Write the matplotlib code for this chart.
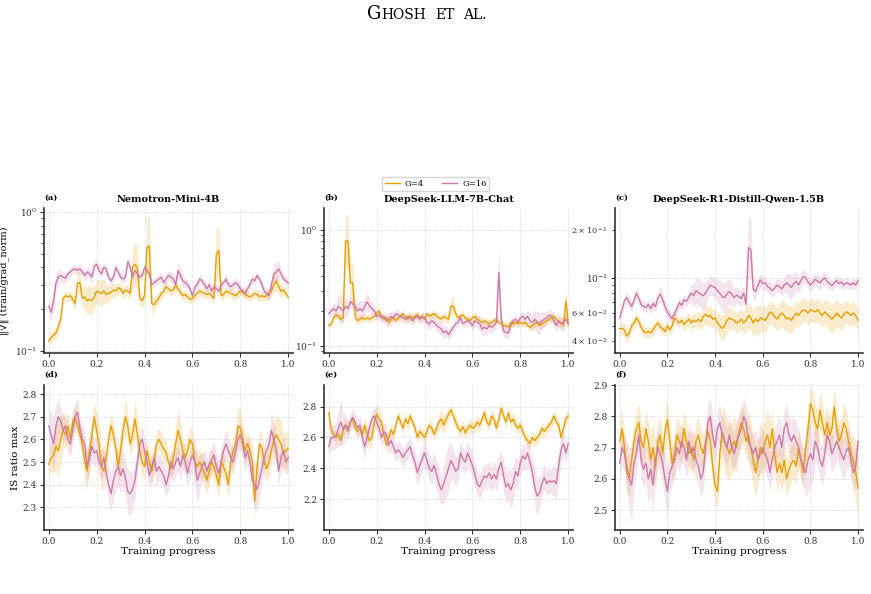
"""GRPO group-size comparison: grad norm and IS ratio max across three models."""

import matplotlib

matplotlib.use("Agg")
import matplotlib.pyplot as plt  # noqa: E402
import numpy as np  # noqa: E402

plt.rcParams["font.family"] = ["DejaVu Serif"]

ORANGE = "#E69F00"
PINK = "#CC79A7"

models = ["Nemotron-Mini-4B", "DeepSeek-LLM-7B-Chat", "DeepSeek-R1-Distill-Qwen-1.5B"]
group_labels = ["G=4", "G=16"]
progress = np.round(np.arange(101) * 0.01, 2)
x_ticks = [0.0, 0.2, 0.4, 0.6, 0.8, 1.0]

# ---- grad norm (log scale), sampled every 0.01 of training progress ----
gn_nemotron_g4 = [
    0.118, 0.125, 0.13, 0.135, 0.15, 0.17, 0.24, 0.25, 0.245, 0.25,
    0.235, 0.22, 0.31, 0.31, 0.24, 0.245, 0.23, 0.235, 0.23, 0.245,
    0.27, 0.265, 0.26, 0.27, 0.255, 0.26, 0.265, 0.275, 0.27, 0.285,
    0.28, 0.26, 0.275, 0.27, 0.26, 0.40, 0.42, 0.40, 0.24, 0.23,
    0.25, 0.56, 0.57, 0.22, 0.215, 0.23, 0.24, 0.26, 0.27, 0.29,
    0.28, 0.27, 0.275, 0.30, 0.28, 0.265, 0.25, 0.255, 0.245, 0.235,
    0.24, 0.25, 0.26, 0.27, 0.265, 0.26, 0.255, 0.26, 0.25, 0.24,
    0.50, 0.53, 0.25, 0.255, 0.27, 0.265, 0.26, 0.255, 0.25, 0.26,
    0.27, 0.265, 0.255, 0.25, 0.245, 0.25, 0.26, 0.255, 0.245, 0.25,
    0.245, 0.25, 0.26, 0.27, 0.30, 0.32, 0.29, 0.27, 0.275, 0.26,
    0.245,
]
gn_nemotron_g16 = [
    0.21, 0.19, 0.23, 0.31, 0.34, 0.35, 0.34, 0.335, 0.36, 0.37,
    0.385, 0.39, 0.38, 0.39, 0.37, 0.35, 0.37, 0.36, 0.34, 0.41,
    0.42, 0.38, 0.36, 0.40, 0.39, 0.34, 0.32, 0.34, 0.40, 0.37,
    0.34, 0.33, 0.34, 0.44, 0.40, 0.34, 0.38, 0.36, 0.34, 0.35,
    0.40, 0.38, 0.36, 0.30, 0.31, 0.32, 0.33, 0.34, 0.31, 0.33,
    0.35, 0.34, 0.33, 0.30, 0.38, 0.35, 0.32, 0.31, 0.30, 0.28,
    0.25, 0.29, 0.30, 0.33, 0.32, 0.30, 0.28, 0.30, 0.27, 0.29,
    0.28, 0.27, 0.30, 0.31, 0.33, 0.30, 0.29, 0.30, 0.31, 0.30,
    0.28, 0.27, 0.26, 0.28, 0.30, 0.33, 0.32, 0.35, 0.33, 0.30,
    0.27, 0.26, 0.25, 0.30, 0.36, 0.37, 0.39, 0.36, 0.33, 0.32,
    0.31,
]
gn_deepseek_g4 = [
    0.15, 0.155, 0.175, 0.185, 0.18, 0.17, 0.175, 0.80, 0.80, 0.35,
    0.35, 0.18, 0.165, 0.17, 0.175, 0.17, 0.175, 0.17, 0.175, 0.18,
    0.19, 0.20, 0.18, 0.17, 0.175, 0.16, 0.17, 0.175, 0.165, 0.175,
    0.18, 0.19, 0.175, 0.17, 0.18, 0.175, 0.18, 0.185, 0.175, 0.18,
    0.17, 0.19, 0.18, 0.185, 0.19, 0.18, 0.175, 0.17, 0.18, 0.175,
    0.17, 0.22, 0.22, 0.19, 0.175, 0.18, 0.185, 0.175, 0.17, 0.165,
    0.175, 0.18, 0.17, 0.165, 0.16, 0.165, 0.16, 0.155, 0.16, 0.165,
    0.17, 0.16, 0.155, 0.15, 0.15, 0.145, 0.16, 0.155, 0.16, 0.155,
    0.16, 0.155, 0.16, 0.15, 0.145, 0.15, 0.155, 0.16, 0.15, 0.155,
    0.16, 0.165, 0.17, 0.175, 0.18, 0.17, 0.16, 0.16, 0.15, 0.245,
    0.155,
]
gn_deepseek_g16 = [
    0.19, 0.20, 0.21, 0.20, 0.22, 0.21, 0.20, 0.22, 0.21, 0.24,
    0.23, 0.22, 0.20, 0.21, 0.20, 0.22, 0.24, 0.22, 0.21, 0.20,
    0.18, 0.185, 0.175, 0.18, 0.165, 0.17, 0.18, 0.175, 0.19, 0.185,
    0.18, 0.175, 0.17, 0.18, 0.175, 0.165, 0.175, 0.18, 0.17, 0.18,
    0.175, 0.16, 0.155, 0.165, 0.16, 0.15, 0.145, 0.14, 0.13, 0.135,
    0.125, 0.135, 0.145, 0.155, 0.16, 0.175, 0.155, 0.16, 0.165, 0.16,
    0.15, 0.165, 0.16, 0.155, 0.14, 0.145, 0.14, 0.15, 0.145, 0.15,
    0.16, 0.43, 0.17, 0.135, 0.13, 0.13, 0.15, 0.165, 0.17, 0.16,
    0.175, 0.18, 0.17, 0.18, 0.165, 0.16, 0.17, 0.16, 0.155, 0.165,
    0.17, 0.175, 0.185, 0.18, 0.165, 0.15, 0.165, 0.155, 0.16, 0.17,
    0.155,
]
gn_qwen_g4 = [
    0.048, 0.048, 0.047, 0.043, 0.045, 0.050, 0.052, 0.056, 0.053, 0.049,
    0.046, 0.045, 0.046, 0.045, 0.047, 0.050, 0.052, 0.049, 0.048, 0.046,
    0.050, 0.047, 0.050, 0.056, 0.054, 0.052, 0.054, 0.051, 0.053, 0.055,
    0.052, 0.054, 0.053, 0.055, 0.053, 0.057, 0.059, 0.057, 0.058, 0.055,
    0.056, 0.052, 0.050, 0.048, 0.050, 0.054, 0.056, 0.055, 0.054, 0.052,
    0.053, 0.055, 0.052, 0.054, 0.058, 0.056, 0.052, 0.055, 0.053, 0.056,
    0.055, 0.054, 0.057, 0.061, 0.060, 0.057, 0.055, 0.058, 0.060, 0.058,
    0.055, 0.056, 0.054, 0.057, 0.060, 0.058, 0.061, 0.063, 0.062, 0.060,
    0.063, 0.062, 0.061, 0.063, 0.060, 0.058, 0.061, 0.059, 0.057, 0.055,
    0.057, 0.060, 0.058, 0.056, 0.059, 0.061, 0.060, 0.058, 0.060, 0.058,
    0.054,
]
gn_qwen_g16 = [
    0.056, 0.063, 0.072, 0.075, 0.070, 0.066, 0.072, 0.080, 0.074, 0.068,
    0.066, 0.065, 0.068, 0.064, 0.069, 0.066, 0.075, 0.079, 0.073, 0.066,
    0.061, 0.058, 0.055, 0.060, 0.064, 0.070, 0.067, 0.073, 0.071, 0.076,
    0.080, 0.077, 0.083, 0.081, 0.079, 0.077, 0.080, 0.085, 0.090, 0.088,
    0.087, 0.083, 0.080, 0.076, 0.075, 0.079, 0.082, 0.079, 0.075, 0.078,
    0.076, 0.074, 0.080, 0.068, 0.155, 0.150, 0.085, 0.082, 0.090, 0.097,
    0.092, 0.093, 0.088, 0.086, 0.083, 0.086, 0.090, 0.088, 0.085, 0.090,
    0.093, 0.090, 0.087, 0.092, 0.095, 0.090, 0.096, 0.102, 0.100, 0.094,
    0.090, 0.093, 0.098, 0.095, 0.093, 0.097, 0.100, 0.095, 0.092, 0.089,
    0.093, 0.096, 0.092, 0.094, 0.090, 0.093, 0.092, 0.090, 0.093, 0.090,
    0.096,
]

# band half-widths for grad norm, in percent (band = v/(1+s) .. v*(1+s))
gn_nemotron_g4_sd = [
    8, 8, 10, 10, 10, 12, 10, 8, 8, 8, 10, 12, 20, 20, 18, 22, 25, 28, 25, 22,
    20, 25, 25, 22, 18, 15, 12, 12, 12, 10, 10, 10, 10, 10, 12, 40, 45, 40, 15, 12,
    12, 60, 65, 20, 12, 10, 10, 10, 10, 10, 8, 8, 8, 10, 10, 10, 8, 8, 8, 8,
    8, 8, 8, 8, 8, 8, 8, 8, 8, 10, 55, 50, 10, 8, 8, 8, 8, 8, 8, 8,
    8, 8, 8, 8, 8, 8, 8, 8, 8, 8, 8, 8, 10, 12, 15, 18, 15, 10, 8, 8, 8,
]
gn_nemotron_g16_sd = [
    12, 15, 20, 15, 12, 10, 10, 8, 8, 8, 8, 8, 8, 8, 8, 10, 10, 10, 10, 8,
    8, 8, 8, 8, 8, 8, 8, 8, 8, 8, 8, 8, 8, 10, 10, 8, 8, 8, 8, 8,
    8, 8, 8, 8, 8, 8, 8, 8, 8, 8, 8, 10, 10, 10, 12, 15, 12, 8, 8, 8,
    8, 8, 8, 8, 8, 8, 8, 8, 8, 8, 8, 8, 8, 8, 8, 8, 8, 8, 8, 8,
    8, 8, 8, 8, 8, 8, 8, 8, 8, 8, 8, 8, 10, 12, 15, 18, 15, 10, 8, 8, 8,
]
gn_deepseek_g4_sd = [
    6, 6, 8, 8, 8, 8, 10, 70, 70, 50, 50, 15, 8, 8, 8, 8, 8, 8, 8, 8,
    10, 10, 8, 8, 8, 8, 8, 8, 8, 8, 8, 8, 8, 8, 8, 8, 8, 8, 8, 8,
    8, 8, 8, 8, 8, 8, 8, 8, 8, 8, 10, 20, 20, 10, 8, 8, 8, 8, 8, 8,
    8, 8, 8, 8, 8, 8, 8, 8, 8, 8, 8, 8, 8, 8, 8, 10, 10, 8, 8, 8,
    8, 8, 8, 8, 8, 8, 8, 8, 8, 8, 8, 8, 8, 10, 10, 10, 10, 12, 15, 25, 20,
]
gn_deepseek_g16_sd = [
    10, 10, 12, 15, 25, 35, 25, 20, 15, 12, 12, 12, 15, 20, 20, 18, 20, 15, 12, 10,
    10, 10, 10, 10, 12, 15, 12, 10, 10, 10, 10, 10, 10, 10, 10, 10, 10, 10, 10, 10,
    12, 12, 12, 12, 12, 12, 12, 15, 12, 12, 12, 12, 10, 10, 10, 10, 10, 10, 10, 10,
    10, 12, 12, 15, 15, 15, 15, 12, 12, 12, 12, 70, 25, 12, 12, 12, 12, 10, 10, 10,
    10, 10, 10, 12, 15, 18, 20, 25, 25, 20, 15, 12, 12, 12, 12, 15, 15, 12, 12, 12, 12,
]
gn_qwen_g4_sd = [
    10, 10, 10, 10, 8, 8, 8, 8, 8, 8, 8, 8, 8, 8, 8, 8, 8, 8, 8, 8,
    8, 8, 8, 8, 8, 8, 8, 10, 10, 10, 10, 10, 12, 12, 12, 15, 15, 15, 15, 15,
    15, 15, 18, 20, 20, 20, 18, 15, 15, 15, 15, 15, 18, 20, 20, 20, 20, 22, 25, 22,
    20, 20, 18, 18, 18, 18, 18, 20, 22, 22, 22, 22, 22, 20, 20, 20, 20, 18, 18, 18,
    18, 18, 18, 18, 18, 18, 20, 22, 22, 22, 22, 22, 20, 20, 20, 18, 18, 18, 18, 18, 18,
]
gn_qwen_g16_sd = [
    8, 8, 8, 8, 8, 8, 8, 8, 8, 8, 8, 8, 8, 8, 8, 8, 10, 12, 12, 10,
    8, 8, 8, 8, 8, 8, 8, 8, 8, 10, 15, 18, 20, 22, 22, 20, 18, 15, 15, 15,
    15, 18, 20, 22, 25, 22, 20, 18, 15, 12, 12, 12, 12, 12, 55, 55, 15, 12, 10, 10,
    10, 10, 10, 10, 10, 10, 10, 10, 10, 12, 15, 18, 20, 18, 15, 12, 12, 10, 10, 10,
    10, 10, 10, 10, 10, 10, 10, 10, 8, 8, 8, 8, 8, 8, 8, 8, 8, 8, 8, 8, 8,
]

# ---- IS ratio max (linear), sampled every 0.01 of training progress ----
is_nemotron_g4 = [
    2.49, 2.52, 2.53, 2.57, 2.55, 2.60, 2.64, 2.62, 2.66, 2.60,
    2.68, 2.70, 2.66, 2.62, 2.58, 2.50, 2.46, 2.55, 2.62, 2.70,
    2.64, 2.58, 2.48, 2.46, 2.52, 2.60, 2.66, 2.62, 2.56, 2.48,
    2.55, 2.64, 2.70, 2.66, 2.58, 2.62, 2.69, 2.62, 2.55, 2.50,
    2.48, 2.55, 2.50, 2.46, 2.50, 2.58, 2.60, 2.58, 2.56, 2.54,
    2.50, 2.47, 2.52, 2.58, 2.64, 2.60, 2.55, 2.52, 2.55, 2.60,
    2.58, 2.50, 2.48, 2.50, 2.48, 2.45, 2.42, 2.46, 2.50, 2.48,
    2.44, 2.40, 2.50, 2.48, 2.45, 2.40, 2.50, 2.55, 2.58, 2.66,
    2.65, 2.60, 2.55, 2.58, 2.55, 2.50, 2.33, 2.48, 2.58, 2.56,
    2.50, 2.47, 2.50, 2.55, 2.60, 2.62, 2.60, 2.58, 2.54, 2.55,
    2.56,
]
is_nemotron_g16 = [
    2.66, 2.62, 2.58, 2.66, 2.70, 2.68, 2.64, 2.66, 2.60, 2.58,
    2.64, 2.70, 2.72, 2.65, 2.60, 2.58, 2.48, 2.52, 2.57, 2.54,
    2.55, 2.50, 2.48, 2.52, 2.45, 2.40, 2.36, 2.42, 2.46, 2.48,
    2.44, 2.47, 2.43, 2.37, 2.36, 2.38, 2.42, 2.50, 2.58, 2.60,
    2.55, 2.50, 2.44, 2.48, 2.52, 2.46, 2.48, 2.46, 2.44, 2.40,
    2.44, 2.50, 2.47, 2.50, 2.52, 2.48, 2.53, 2.50, 2.45, 2.50,
    2.53, 2.50, 2.42, 2.45, 2.48, 2.50, 2.46, 2.49, 2.51, 2.53,
    2.48, 2.45, 2.50, 2.55, 2.58, 2.55, 2.52, 2.50, 2.55, 2.60,
    2.62, 2.58, 2.52, 2.55, 2.50, 2.42, 2.40, 2.38, 2.42, 2.47,
    2.52, 2.55, 2.58, 2.64, 2.60, 2.55, 2.46, 2.52, 2.55, 2.50,
    2.52,
]
is_deepseek_g4 = [
    2.76, 2.65, 2.62, 2.60, 2.62, 2.58, 2.65, 2.68, 2.66, 2.70,
    2.72, 2.66, 2.64, 2.66, 2.62, 2.68, 2.62, 2.58, 2.60, 2.70,
    2.75, 2.72, 2.70, 2.62, 2.55, 2.60, 2.65, 2.62, 2.68, 2.74,
    2.70, 2.66, 2.72, 2.69, 2.74, 2.70, 2.66, 2.60, 2.64, 2.62,
    2.60, 2.64, 2.68, 2.66, 2.62, 2.66, 2.70, 2.72, 2.68, 2.72,
    2.75, 2.78, 2.74, 2.70, 2.66, 2.64, 2.67, 2.63, 2.66, 2.68,
    2.66, 2.67, 2.70, 2.68, 2.72, 2.76, 2.70, 2.68, 2.74, 2.72,
    2.66, 2.72, 2.79, 2.74, 2.70, 2.76, 2.70, 2.72, 2.68, 2.66,
    2.68, 2.64, 2.60, 2.58, 2.56, 2.60, 2.58, 2.60, 2.62, 2.66,
    2.64, 2.66, 2.68, 2.70, 2.74, 2.70, 2.68, 2.60, 2.66, 2.72,
    2.74,
]
is_deepseek_g16 = [
    2.54, 2.60, 2.60, 2.61, 2.66, 2.70, 2.65, 2.68, 2.64, 2.70,
    2.73, 2.70, 2.66, 2.68, 2.60, 2.54, 2.60, 2.66, 2.72, 2.74,
    2.70, 2.66, 2.60, 2.64, 2.62, 2.55, 2.58, 2.54, 2.50, 2.52,
    2.50, 2.47, 2.50, 2.52, 2.54, 2.48, 2.44, 2.37, 2.42, 2.46,
    2.50, 2.45, 2.40, 2.38, 2.42, 2.36, 2.30, 2.26, 2.30, 2.35,
    2.40, 2.45, 2.42, 2.38, 2.40, 2.50, 2.46, 2.44, 2.50, 2.46,
    2.42, 2.36, 2.30, 2.28, 2.32, 2.35, 2.34, 2.37, 2.33, 2.36,
    2.33, 2.40, 2.44, 2.35, 2.28, 2.30, 2.26, 2.30, 2.38, 2.35,
    2.44, 2.48, 2.46, 2.50, 2.44, 2.38, 2.28, 2.22, 2.24, 2.30,
    2.34, 2.30, 2.32, 2.31, 2.32, 2.30, 2.42, 2.52, 2.56, 2.50,
    2.56,
]
is_qwen_g4 = [
    2.72, 2.76, 2.70, 2.62, 2.60, 2.66, 2.72, 2.76, 2.78, 2.72,
    2.70, 2.76, 2.72, 2.66, 2.70, 2.64, 2.72, 2.74, 2.68, 2.75,
    2.79, 2.72, 2.65, 2.68, 2.74, 2.72, 2.70, 2.76, 2.72, 2.68,
    2.70, 2.66, 2.72, 2.74, 2.70, 2.68, 2.72, 2.75, 2.72, 2.64,
    2.58, 2.56, 2.68, 2.75, 2.72, 2.70, 2.68, 2.70, 2.72, 2.70,
    2.75, 2.78, 2.76, 2.72, 2.74, 2.70, 2.66, 2.62, 2.66, 2.70,
    2.68, 2.72, 2.74, 2.70, 2.76, 2.68, 2.62, 2.65, 2.62, 2.66,
    2.60, 2.63, 2.65, 2.66, 2.64, 2.70, 2.66, 2.62, 2.70, 2.76,
    2.84, 2.82, 2.78, 2.76, 2.82, 2.78, 2.74, 2.78, 2.74, 2.76,
    2.83, 2.76, 2.72, 2.74, 2.78, 2.76, 2.72, 2.68, 2.66, 2.62,
    2.57,
]
is_qwen_g16 = [
    2.65, 2.70, 2.68, 2.64, 2.60, 2.58, 2.65, 2.68, 2.74, 2.66,
    2.63, 2.65, 2.60, 2.63, 2.58, 2.66, 2.70, 2.68, 2.65, 2.60,
    2.56, 2.62, 2.64, 2.66, 2.70, 2.68, 2.72, 2.70, 2.66, 2.72,
    2.68, 2.70, 2.66, 2.64, 2.60, 2.62, 2.70, 2.78, 2.80, 2.74,
    2.70, 2.76, 2.78, 2.74, 2.72, 2.70, 2.74, 2.70, 2.68, 2.72,
    2.74, 2.76, 2.80, 2.78, 2.72, 2.70, 2.68, 2.70, 2.66, 2.68,
    2.70, 2.68, 2.66, 2.62, 2.66, 2.70, 2.72, 2.74, 2.70, 2.76,
    2.78, 2.74, 2.72, 2.74, 2.72, 2.70, 2.66, 2.64, 2.62, 2.66,
    2.68, 2.66, 2.72, 2.70, 2.66, 2.64, 2.68, 2.74, 2.72, 2.68,
    2.70, 2.72, 2.70, 2.68, 2.66, 2.69, 2.70, 2.66, 2.62, 2.64,
    2.72,
]

# band half-widths for IS ratio max, in hundredths
is_nemotron_g4_sd = [
    6, 6, 8, 10, 12, 10, 8, 6, 6, 6, 5, 5, 5, 5, 6, 8, 8, 8, 6, 6,
    8, 10, 10, 8, 6, 6, 6, 6, 6, 8, 8, 6, 8, 6, 6, 6, 8, 8, 6, 6,
    6, 6, 6, 6, 6, 6, 5, 5, 5, 5, 5, 5, 6, 8, 10, 8, 6, 6, 6, 6,
    6, 6, 6, 6, 6, 6, 6, 6, 6, 6, 6, 6, 6, 6, 6, 6, 6, 6, 6, 8,
    8, 8, 6, 6, 6, 8, 8, 6, 6, 6, 6, 6, 6, 6, 8, 8, 10, 10, 8, 8, 8,
]
is_nemotron_g16_sd = [
    8, 10, 12, 10, 8, 6, 6, 6, 6, 6, 6, 6, 6, 6, 6, 6, 8, 6, 6, 6,
    6, 6, 6, 6, 6, 8, 8, 8, 8, 8, 8, 8, 8, 10, 10, 8, 8, 6, 6, 6,
    6, 6, 6, 6, 6, 6, 6, 6, 6, 6, 6, 6, 6, 6, 6, 6, 6, 6, 6, 6,
    8, 10, 10, 8, 6, 6, 6, 6, 6, 6, 6, 6, 6, 6, 6, 6, 6, 6, 6, 6,
    6, 6, 6, 6, 8, 8, 10, 10, 8, 6, 6, 6, 6, 8, 8, 6, 6, 6, 6, 6, 6,
]
is_deepseek_g4_sd = [
    4, 4, 4, 4, 4, 4, 4, 4, 4, 4, 4, 4, 4, 4, 4, 6, 6, 6, 6, 6,
    8, 6, 6, 4, 4, 4, 4, 4, 4, 4, 4, 4, 4, 4, 4, 4, 4, 4, 4, 4,
    4, 4, 4, 4, 4, 4, 6, 6, 6, 4, 4, 4, 4, 4, 4, 4, 4, 4, 4, 4,
    4, 4, 4, 4, 4, 4, 4, 4, 4, 4, 4, 4, 4, 4, 4, 4, 4, 4, 4, 4,
    4, 4, 4, 4, 4, 4, 4, 4, 4, 4, 4, 4, 4, 4, 4, 4, 4, 4, 4, 4, 4,
]
is_deepseek_g16_sd = [
    6, 8, 8, 8, 12, 15, 10, 8, 6, 6, 6, 6, 6, 6, 8, 8, 6, 6, 6, 6,
    6, 6, 6, 6, 6, 6, 6, 6, 6, 6, 6, 6, 6, 6, 6, 6, 8, 8, 8, 8,
    8, 8, 8, 8, 8, 10, 10, 10, 12, 15, 15, 12, 10, 10, 8, 8, 8, 8, 8, 8,
    8, 8, 8, 8, 8, 8, 8, 8, 8, 8, 8, 8, 8, 10, 10, 10, 12, 12, 10, 10,
    8, 8, 8, 8, 8, 10, 12, 12, 10, 8, 8, 8, 8, 8, 10, 10, 10, 8, 8, 6, 6,
]
is_qwen_g4_sd = [
    6, 6, 6, 6, 6, 6, 6, 6, 6, 6, 6, 6, 6, 8, 8, 8, 6, 6, 6, 6,
    6, 6, 6, 6, 6, 6, 6, 6, 6, 6, 6, 6, 6, 6, 6, 6, 6, 6, 6, 6,
    6, 6, 6, 8, 10, 10, 8, 8, 8, 8, 6, 6, 6, 6, 8, 8, 8, 8, 8, 8,
    8, 8, 8, 8, 6, 6, 6, 6, 6, 6, 6, 6, 6, 6, 6, 6, 6, 6, 6, 6,
    6, 6, 6, 6, 6, 6, 6, 6, 6, 6, 6, 6, 6, 6, 6, 6, 6, 6, 8, 10, 10,
]
is_qwen_g16_sd = [
    6, 6, 6, 8, 10, 12, 8, 6, 6, 6, 6, 6, 8, 8, 8, 6, 6, 6, 6, 8,
    8, 6, 6, 6, 6, 6, 6, 6, 6, 6, 6, 6, 6, 6, 6, 6, 6, 6, 6, 6,
    6, 6, 6, 6, 6, 6, 6, 6, 6, 6, 6, 6, 6, 6, 6, 6, 6, 6, 6, 6,
    6, 6, 6, 6, 6, 6, 6, 6, 6, 6, 6, 6, 6, 6, 6, 6, 6, 6, 8, 10,
    10, 8, 6, 6, 6, 6, 6, 6, 6, 6, 6, 6, 6, 6, 6, 6, 6, 6, 6, 6, 6,
]

grad_norm = [
    (gn_nemotron_g4, gn_nemotron_g4_sd, gn_nemotron_g16, gn_nemotron_g16_sd),
    (gn_deepseek_g4, gn_deepseek_g4_sd, gn_deepseek_g16, gn_deepseek_g16_sd),
    (gn_qwen_g4, gn_qwen_g4_sd, gn_qwen_g16, gn_qwen_g16_sd),
]
is_ratio = [
    (is_nemotron_g4, is_nemotron_g4_sd, is_nemotron_g16, is_nemotron_g16_sd),
    (is_deepseek_g4, is_deepseek_g4_sd, is_deepseek_g16, is_deepseek_g16_sd),
    (is_qwen_g4, is_qwen_g4_sd, is_qwen_g16, is_qwen_g16_sd),
]
gn_ylims = [(0.0967, 1.07), (0.087, 1.54), (0.0337, 0.274)]
is_ylims = [(2.2, 2.84), (2.0, 2.94), (2.436, 2.9)]
is_yticks = [[2.3, 2.4, 2.5, 2.6, 2.7, 2.8], [2.2, 2.4, 2.6, 2.8], [2.5, 2.6, 2.7, 2.8, 2.9]]
panel_tags = ["(a)", "(b)", "(c)", "(d)", "(e)", "(f)"]


def style_axis(ax, tag):
    for side in ("top", "right"):
        ax.spines[side].set_visible(False)
    for side in ("left", "bottom"):
        ax.spines[side].set_linewidth(1.2)
        ax.spines[side].set_color("#333333")
    ax.tick_params(axis="both", which="major", labelsize=6.5, length=3, width=0.8,
                   colors="#333333", pad=2)
    ax.tick_params(axis="y", which="minor", length=2, width=0.6, colors="#333333", labelsize=6)
    ax.grid(True, which="major", ls=":", lw=0.6, color="#cccccc")
    ax.set_xlim(-0.02, 1.02)
    ax.set_xticks(x_ticks)
    ax.text(0.0, 1.04, tag, transform=ax.transAxes, ha="left", va="bottom",
            fontsize=6, fontweight="bold")


def draw_pair(ax, series, log):
    g4, g4_sd, g16, g16_sd = series
    for vals, sd, color, label in ((g4, g4_sd, ORANGE, group_labels[0]),
                                    (g16, g16_sd, PINK, group_labels[1])):
        v = np.asarray(vals)
        if log:
            f = 1 + np.asarray(sd) / 100.0
            lo, hi = v / f, v * f
        else:
            s = np.asarray(sd) / 100.0
            lo, hi = v - s, v + s
        ax.fill_between(progress, lo, hi, color=color, alpha=0.2, lw=0)
        ax.plot(progress, v, color=color, lw=1.0, label=label)


fig = plt.figure(figsize=(8.71, 5.94), dpi=100)
lefts = [0.0505, 0.372, 0.706]
widths = [0.2859, 0.2859, 0.2847]
axes_top, axes_bot = [], []
for i in range(3):
    axes_top.append(fig.add_axes([lefts[i], 0.4057, widths[i], 0.2441]))
    axes_bot.append(fig.add_axes([lefts[i], 0.1077, widths[i], 0.2441]))

for i, ax in enumerate(axes_top):
    draw_pair(ax, grad_norm[i], log=True)
    ax.set_yscale("log")
    ax.set_ylim(*gn_ylims[i])
    style_axis(ax, panel_tags[i])
    ax.set_title(models[i], fontsize=7, fontweight="bold", pad=4)

for i, ax in enumerate(axes_bot):
    draw_pair(ax, is_ratio[i], log=False)
    ax.set_ylim(*is_ylims[i])
    ax.set_yticks(is_yticks[i])
    style_axis(ax, panel_tags[i + 3])
    ax.set_xlabel("Training progress", fontsize=7.5, labelpad=1)

axes_top[0].set_ylabel("‖∇‖ (train/grad_norm)", fontsize=7, labelpad=4)
axes_bot[0].set_ylabel("IS ratio max", fontsize=7.5, labelpad=2)

handles, labels = axes_top[0].get_legend_handles_labels()
fig.legend(handles, labels, loc="center", bbox_to_anchor=(0.5, 0.690), ncol=2,
           fontsize=6, frameon=True, edgecolor="#cccccc", handlelength=1.8,
           columnspacing=2.2, borderpad=0.35, handletextpad=0.6)

# running header of the page (small caps, word by word)
header_y = 0.968
fig.text(0.4374, header_y, "G", ha="right", va="baseline", fontsize=13)
fig.text(0.4374, header_y, "HOSH", ha="left", va="baseline", fontsize=10)
fig.text(0.4994, header_y, "ET", ha="left", va="baseline", fontsize=10)
fig.text(0.5316, header_y, "AL.", ha="left", va="baseline", fontsize=10)

fig.savefig("out.png", dpi=100)
plt.close(fig)
